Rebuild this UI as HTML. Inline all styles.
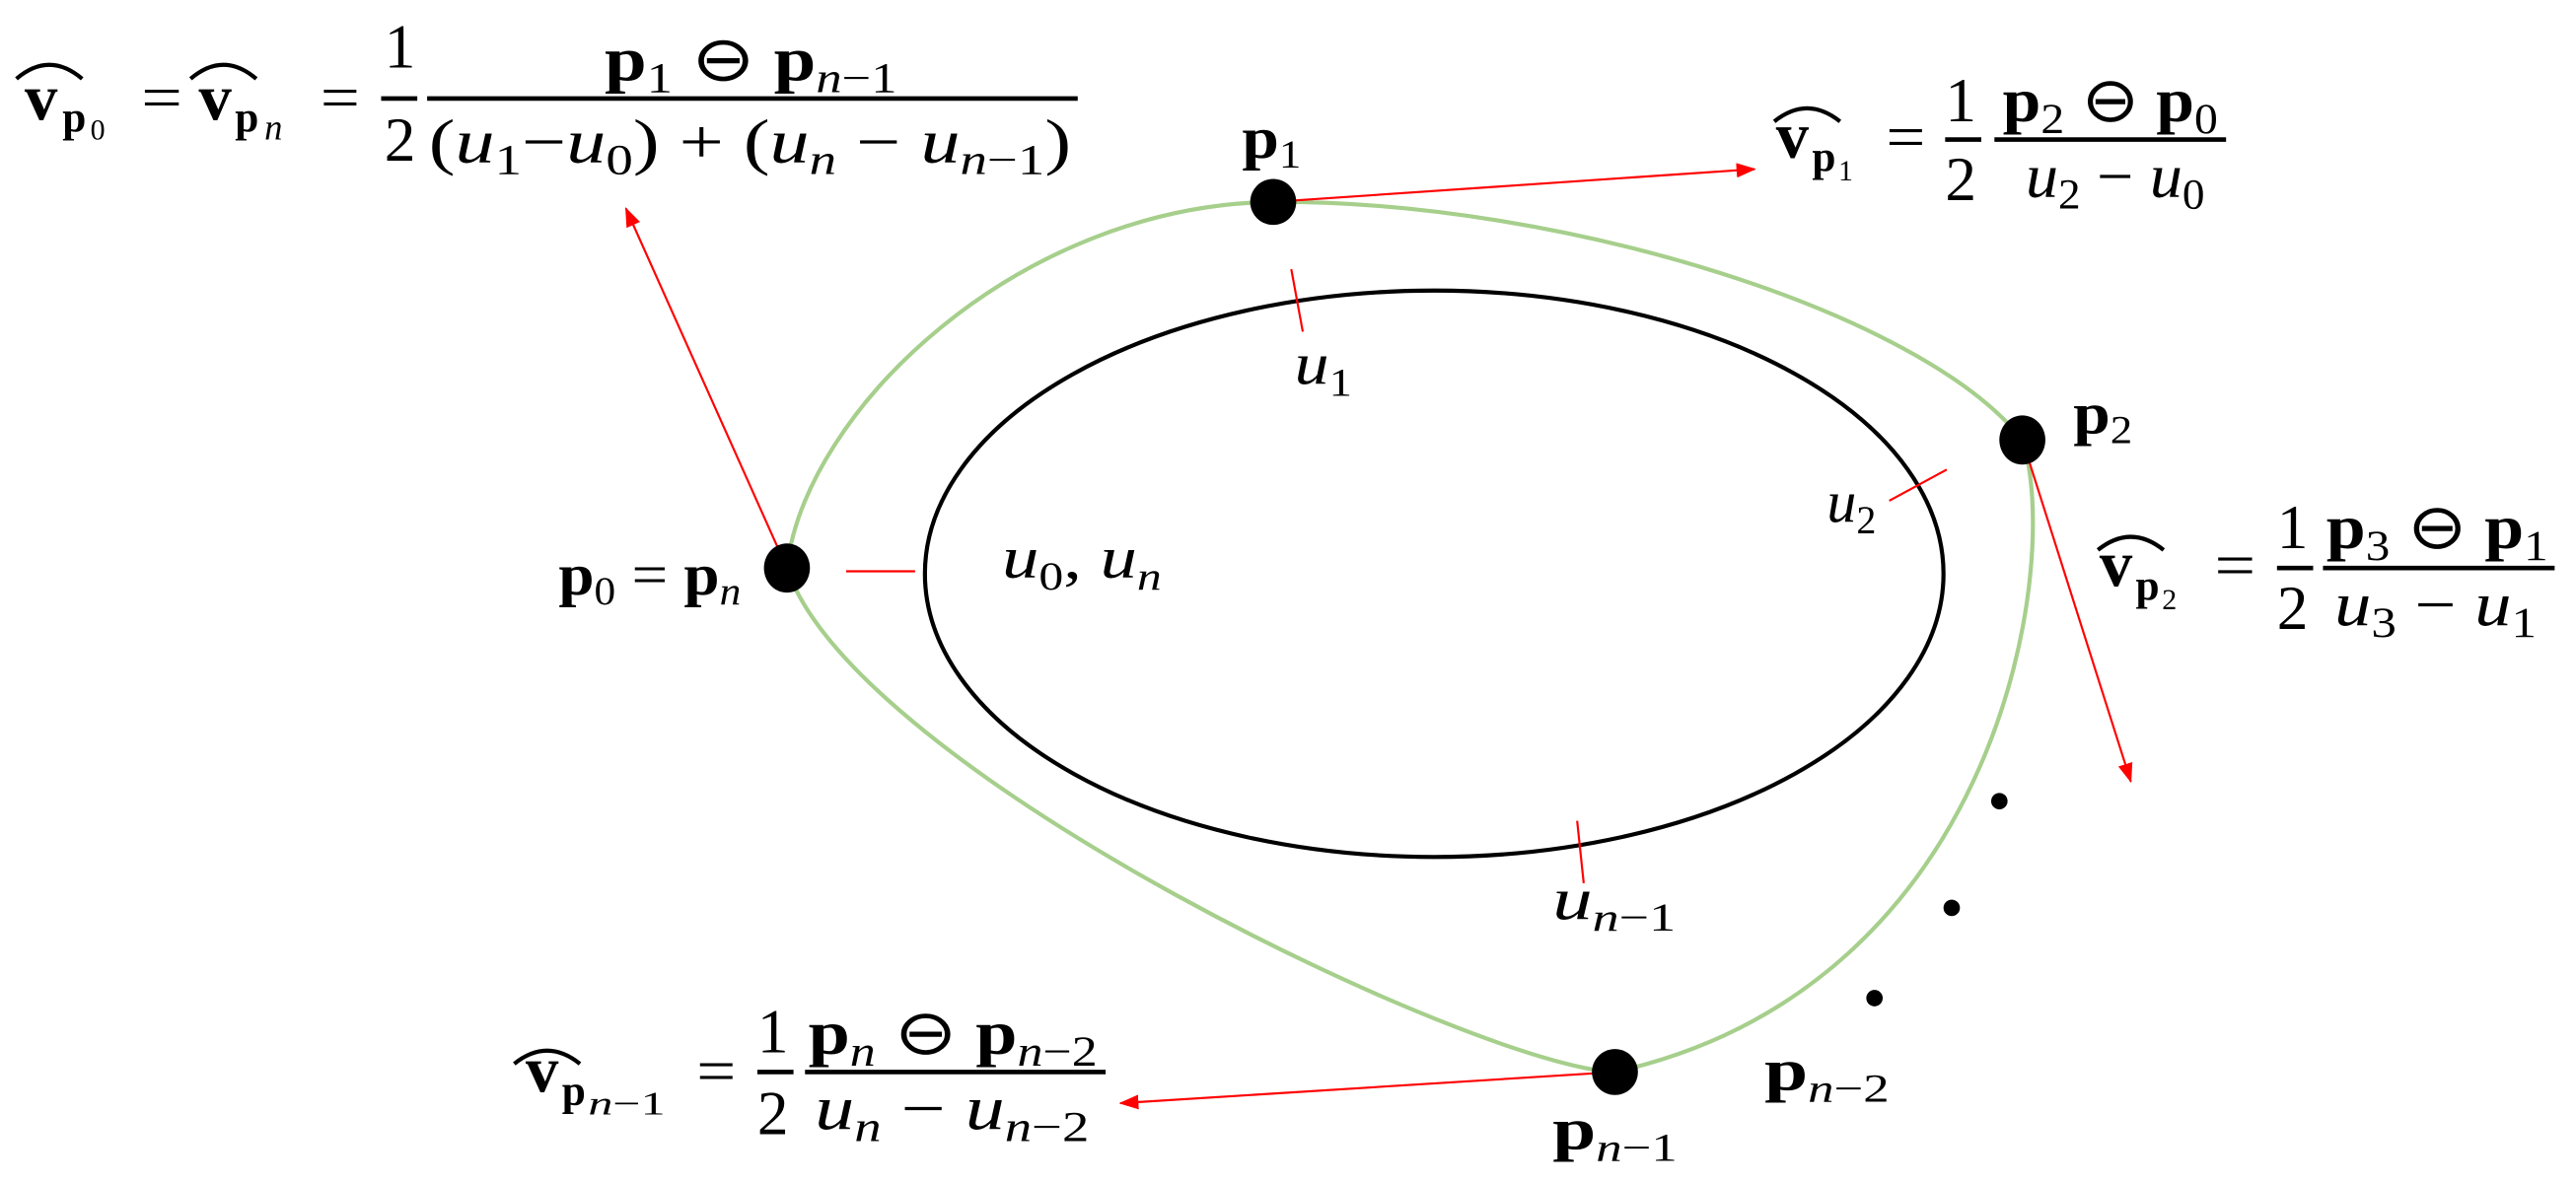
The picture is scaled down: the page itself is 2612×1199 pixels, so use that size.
<!DOCTYPE html>
<html><head><meta charset="utf-8"><style>html,body{margin:0;padding:0;background:#fff}svg{display:block}
text{font-family:"Liberation Serif",serif;fill:#000}
.b{font-weight:bold}.i{font-style:italic}</style></head><body>
<svg width="2612" height="1199" viewBox="0 0 1568 720" preserveAspectRatio="none" xmlns="http://www.w3.org/2000/svg">
<defs><marker id="a" markerWidth="12" markerHeight="9" refX="11" refY="4.5" orient="auto" markerUnits="userSpaceOnUse"><path d="M0,0 L12,4.5 L0,9z" fill="#f00"/></marker></defs>
<ellipse cx="873" cy="349.5" rx="310" ry="172.5" fill="none" stroke="#000" stroke-width="2.5"/>
<path d="M479,346 C490,250 620,125 775,123 C950,122 1170,190 1231,268 C1255,340 1220,600 983,653 C900,650 520,470 479,346" fill="none" stroke="#a6cf8c" stroke-width="2.5"/>
<g stroke="#f00" stroke-width="1.3" fill="none">
<line x1="479" y1="346" x2="381" y2="127" marker-end="url(#a)"/>
<line x1="775" y1="123" x2="1068" y2="103" marker-end="url(#a)"/>
<line x1="1231" y1="268" x2="1297" y2="476" marker-end="url(#a)"/>
<line x1="983" y1="653" x2="682" y2="672" marker-end="url(#a)"/>
<line x1="786" y1="164" x2="793" y2="202"/>
<line x1="515" y1="348" x2="557" y2="348"/>
<line x1="1150" y1="305" x2="1185" y2="286"/>
<line x1="960" y1="500" x2="964" y2="538"/>
</g>
<g fill="#000">
<ellipse cx="479" cy="346" rx="14" ry="15"/><ellipse cx="775" cy="123" rx="14" ry="14"/>
<ellipse cx="1231" cy="268" rx="14" ry="15"/><ellipse cx="983" cy="653" rx="14" ry="14"/>
<circle cx="1217" cy="488" r="5"/><circle cx="1188" cy="553" r="5"/><circle cx="1141" cy="608" r="5"/>
</g>
<g font-size="36">
<text x="756" y="96" class="b" textLength="36" lengthAdjust="spacingAndGlyphs">p<tspan font-size="24" font-weight="normal" dy="6">1</tspan></text>
<text x="1262" y="264" class="b" textLength="36" lengthAdjust="spacingAndGlyphs">p<tspan font-size="24" font-weight="normal" dy="6">2</tspan></text>
<text x="340" y="362" class="b" textLength="111" lengthAdjust="spacingAndGlyphs">p<tspan font-size="24" font-weight="normal" dy="6">0</tspan><tspan dy="-6" font-weight="normal"> = </tspan>p<tspan font-size="24" font-style="italic" font-weight="normal" dy="6">n</tspan></text>
<text x="610" y="352" class="i" textLength="97" lengthAdjust="spacingAndGlyphs">u<tspan font-size="24" font-style="normal" dy="7">0</tspan><tspan dy="-7" font-style="normal">, </tspan>u<tspan font-size="24" dy="7">n</tspan></text>
<text x="788" y="234" class="i" textLength="35" lengthAdjust="spacingAndGlyphs">u<tspan font-size="24" font-style="normal" dy="7">1</tspan></text>
<text x="1112" y="318" class="i">u<tspan font-size="24" font-style="normal" dy="7">2</tspan></text>
<text x="945" y="560" class="i" textLength="75" lengthAdjust="spacingAndGlyphs">u<tspan font-size="24" dy="7">n</tspan><tspan font-size="24" font-style="normal">−1</tspan></text>
<text x="945" y="700" class="b" textLength="76" lengthAdjust="spacingAndGlyphs">p<tspan font-size="24" font-weight="normal" font-style="italic" dy="7">n</tspan><tspan font-size="24" font-weight="normal">−1</tspan></text>
<text x="1074" y="664" class="b" textLength="76" lengthAdjust="spacingAndGlyphs">p<tspan font-size="24" font-weight="normal" font-style="italic" dy="7">n</tspan><tspan font-size="24" font-weight="normal">−2</tspan></text>
</g>
<g stroke="#000" stroke-width="2.5" fill="none">
<path d="M10,48 Q30,31 50,48"/><path d="M116,48 Q136,31 156,48"/>
<path d="M1080,74 Q1100,58 1120,74"/><path d="M1277,335 Q1297,319 1317,335"/><path d="M313,648 Q333,632 353,648"/>
</g>
<g stroke="#000" stroke-width="2.8">
<line x1="232" y1="60" x2="254" y2="60"/><line x1="260" y1="60" x2="656" y2="60"/>
<line x1="1184" y1="85" x2="1206" y2="85"/><line x1="1214" y1="85" x2="1355" y2="85"/>
<line x1="1386" y1="346" x2="1408" y2="346"/><line x1="1414" y1="346" x2="1555" y2="346"/>
<line x1="461" y1="653" x2="483" y2="653"/><line x1="490" y1="653" x2="673" y2="653"/>
</g>
<g font-size="38">
<text x="15" y="73" class="b" font-size="40">v</text>
<text x="38" y="80" class="b" font-size="26">p</text><text x="55" y="85" font-size="18">0</text>
<text x="86" y="72" textLength="25" lengthAdjust="spacingAndGlyphs">=</text>
<text x="121" y="73" class="b" font-size="40">v</text>
<text x="143" y="80" class="b" font-size="26">p</text><text x="161" y="85" font-size="22" class="i">n</text>
<text x="195" y="72" textLength="24" lengthAdjust="spacingAndGlyphs">=</text>
<text x="234" y="41">1</text><text x="234" y="98">2</text>
<text x="368" y="49" class="b" textLength="178" lengthAdjust="spacingAndGlyphs">p<tspan font-size="26" font-weight="normal" dy="7">1</tspan><tspan dy="-7" font-weight="normal"> ⊖ </tspan>p<tspan font-size="26" font-weight="normal" font-style="italic" dy="7">n</tspan><tspan font-size="26" font-weight="normal">−1</tspan></text>
<text x="261" y="99" textLength="391" lengthAdjust="spacingAndGlyphs">(<tspan font-style="italic">u</tspan><tspan font-size="26" dy="7">1</tspan><tspan dy="-7">−</tspan><tspan font-style="italic">u</tspan><tspan font-size="26" dy="7">0</tspan><tspan dy="-7">) + (</tspan><tspan font-style="italic">u</tspan><tspan font-size="26" font-style="italic" dy="7">n</tspan><tspan dy="-7"> − </tspan><tspan font-style="italic">u</tspan><tspan font-size="26" font-style="italic" dy="7">n</tspan><tspan font-size="26">−1</tspan><tspan dy="-7">)</tspan></text>

<text x="1081" y="96" class="b" font-size="40">v</text>
<text x="1103" y="104" class="b" font-size="26">p</text><text x="1119" y="110" font-size="18">1</text>
<text x="1148" y="96" textLength="24" lengthAdjust="spacingAndGlyphs">=</text>
<text x="1184" y="74">1</text><text x="1184" y="122">2</text>
<text x="1219" y="74" class="b" textLength="131" lengthAdjust="spacingAndGlyphs">p<tspan font-size="26" font-weight="normal" dy="7">2</tspan><tspan dy="-7" font-weight="normal"> ⊖ </tspan>p<tspan font-size="26" font-weight="normal" dy="7">0</tspan></text>
<text x="1233" y="120" class="i" textLength="109" lengthAdjust="spacingAndGlyphs">u<tspan font-size="26" font-style="normal" dy="7">2</tspan><tspan dy="-7" font-style="normal"> − </tspan>u<tspan font-size="26" font-style="normal" dy="7">0</tspan></text>

<text x="1278" y="357" class="b" font-size="40">v</text>
<text x="1300" y="365" class="b" font-size="26">p</text><text x="1316" y="371" font-size="18">2</text>
<text x="1348" y="357" textLength="25" lengthAdjust="spacingAndGlyphs">=</text>
<text x="1386" y="334">1</text><text x="1386" y="383">2</text>
<text x="1416" y="334" class="b" textLength="135" lengthAdjust="spacingAndGlyphs">p<tspan font-size="26" font-weight="normal" dy="7">3</tspan><tspan dy="-7" font-weight="normal"> ⊖ </tspan>p<tspan font-size="26" font-weight="normal" dy="7">1</tspan></text>
<text x="1421" y="381" class="i" textLength="123" lengthAdjust="spacingAndGlyphs">u<tspan font-size="26" font-style="normal" dy="7">3</tspan><tspan dy="-7" font-style="normal"> − </tspan>u<tspan font-size="26" font-style="normal" dy="7">1</tspan></text>

<text x="320" y="665" class="b" font-size="40">v</text>
<text x="342" y="673" class="b" font-size="26">p</text><text x="358" y="679" font-size="20" textLength="47" lengthAdjust="spacingAndGlyphs"><tspan class="i">n</tspan>−1</text>
<text x="424" y="665" textLength="24" lengthAdjust="spacingAndGlyphs">=</text>
<text x="461" y="641">1</text><text x="461" y="691">2</text>
<text x="492" y="642" class="b" textLength="176" lengthAdjust="spacingAndGlyphs">p<tspan font-size="26" font-weight="normal" font-style="italic" dy="7">n</tspan><tspan dy="-7" font-weight="normal"> ⊖ </tspan>p<tspan font-size="26" font-weight="normal" font-style="italic" dy="7">n</tspan><tspan font-size="26" font-weight="normal">−2</tspan></text>
<text x="496" y="688" class="i" textLength="167" lengthAdjust="spacingAndGlyphs">u<tspan font-size="26" dy="7">n</tspan><tspan dy="-7" font-style="normal"> − </tspan>u<tspan font-size="26" dy="7">n</tspan><tspan font-size="26" font-style="normal">−2</tspan></text>
</g>
</svg>
</body></html>
